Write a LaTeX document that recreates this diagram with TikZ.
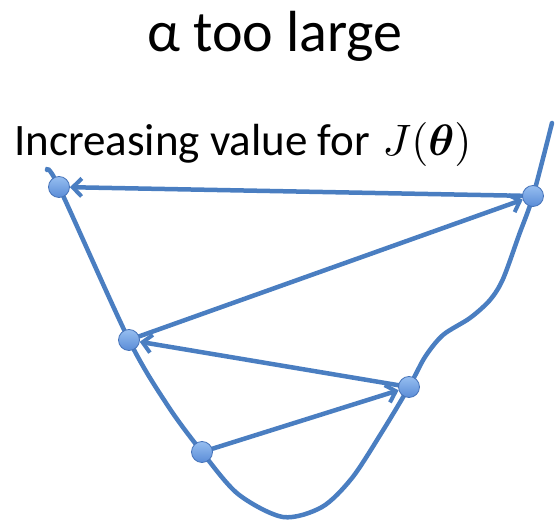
\documentclass[tikz,border=0pt]{standalone}
\usepackage{graphicx}
\usepackage{amsmath,bm}
\usepackage{fontspec}
\setmainfont{Carlito}
\usetikzlibrary{arrows.meta,backgrounds}
\definecolor{lineblue}{RGB}{74,126,193}
\definecolor{dotlight}{RGB}{150,190,240}
\definecolor{dotdark}{RGB}{90,140,215}
\definecolor{dotedge}{RGB}{70,115,185}
\begin{document}
\begin{tikzpicture}[x=1pt,y=-1pt,
  curveline/.style={draw=lineblue,line width=4.5pt,line cap=round},
  steparrow/.style={draw=lineblue,line width=4.5pt,-{Straight Barb[length=9pt,width=18pt,line width=4pt]}},
  dot/.style={circle,minimum size=21pt,inner sep=0pt,draw=dotedge,line width=0.8pt,
    top color=dotlight,bottom color=dotdark}]
\useasboundingbox (0,0) rectangle (558,526);
\node[font=\fontsize{58}{60}\selectfont,anchor=base] (title) at (275,52) {α too large};
\node[font=\fontsize{45}{48}\selectfont,anchor=base west,inner sep=0pt] (lbl) at (14,156) {Increasing value for\;\scalebox{4.4}{\normalsize$J(\bm{\theta})$}};
\node[dot] (p1) at (59,187) {};
\node[dot] (p2) at (533,196) {};
\node[dot] (p3) at (129,340) {};
\node[dot] (p4) at (409,387) {};
\node[dot] (p5) at (202,452) {};
\begin{scope}[on background layer]
\draw[curveline] plot[smooth,tension=0.5] coordinates {(47,170) (59,187) (129,340) (168,406) (202,452) (238,494) (283,517) (322,507) (352,478) (382,432) (409,387) (425,357) (443,335) (470,318) (490,300) (503,279) (519,235) (533,196) (552,123)};
\draw[steparrow] (p2.center) -- (p1);
\draw[steparrow] (p3.center) -- (p2);
\draw[steparrow] (p4.center) -- (p3);
\draw[steparrow] (p5.center) -- (p4);
\end{scope}
\end{tikzpicture}
\end{document}
